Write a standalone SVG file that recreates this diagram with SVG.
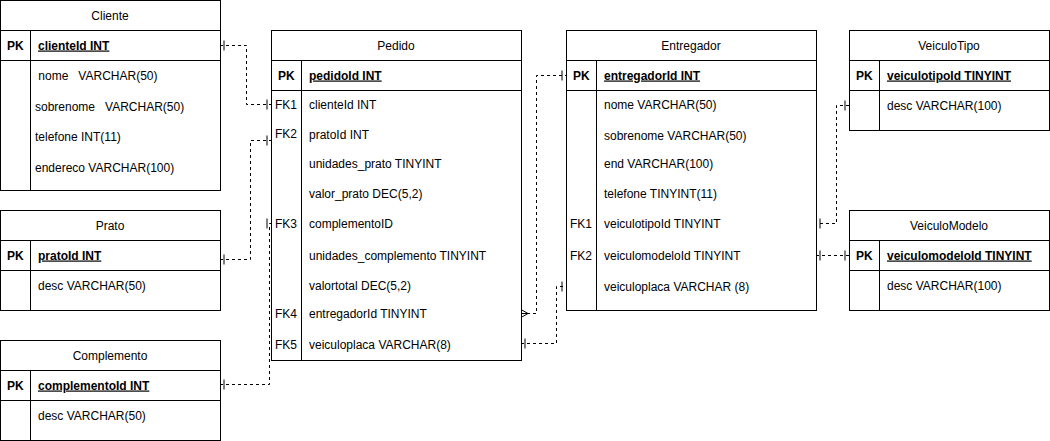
<svg xmlns="http://www.w3.org/2000/svg" width="1050" height="441" viewBox="0 0 1050 441">
<style>
text{font-family:"Liberation Sans",Arial,sans-serif;font-size:12px;fill:#000;}
.t{text-anchor:middle;}
.b{font-weight:bold;}
.u{font-weight:bold;text-decoration:underline;}
.pre{white-space:pre;}
.box{fill:#fff;stroke:#000;stroke-width:1;}
.ln{stroke:#000;stroke-width:1;fill:none;}
.c{stroke:#000;stroke-width:1;fill:none;stroke-dasharray:3 3;}
</style>
<defs>
<marker id="one" viewBox="-10 -6 12 12" refX="0" refY="0" markerWidth="12" markerHeight="12" markerUnits="userSpaceOnUse" orient="auto-start-reverse">
<path d="M-4,-5 L-4,5" stroke="#000" stroke-width="1" fill="none"/>
</marker>
<marker id="many" viewBox="-10 -6 12 12" refX="0" refY="0" markerWidth="12" markerHeight="12" markerUnits="userSpaceOnUse" orient="auto-start-reverse">
<path d="M-7,0 L0,-4 M-7,0 L0,4 M-7,0 L0,0" stroke="#000" stroke-width="1" fill="none"/>
</marker>
</defs>
<rect width="1050" height="441" fill="#fff"/>

<g id="connectors">
<path class="c" d="M220,45.5 H246.5 V104.5 H271" marker-start="url(#one)" marker-end="url(#one)"/>
<path class="c" d="M220,259.5 H250.5 V140.5 H271" marker-start="url(#one)" marker-end="url(#one)"/>
<path class="c" d="M220,384.5 H269.5 V223.5 H271" marker-start="url(#one)" marker-end="url(#one)"/>
<path class="c" d="M521,313.5 H536.5 V75.5 H566" marker-start="url(#many)" marker-end="url(#one)"/>
<path class="c" d="M521,343.5 H556.5 V286.5 H566" marker-start="url(#one)" marker-end="url(#one)"/>
<path class="c" d="M849,105.5 H836.5 V223.5 H816" marker-start="url(#one)" marker-end="url(#one)"/>
<path class="c" d="M849,255.5 H816" marker-start="url(#one)" marker-end="url(#one)"/>
</g>

<g id="Cliente">
<rect class="box" x="0.5" y="0.5" width="220" height="190"/>
<path class="ln" d="M0.5,30.5 H220.5 M0.5,60.5 H220.5 M30.5,30.5 V190.5"/>
<text class="t" x="110" y="19.5">Cliente</text>
<text class="b" x="7" y="49.5">PK</text>
<text class="u" x="38" y="49.5">clienteId INT</text>
<text class="pre" x="35" y="79.5"> nome   VARCHAR(50)</text>
<text class="pre" x="35" y="110.5">sobrenome   VARCHAR(50)</text>
<text x="35" y="140.5">telefone INT(11)</text>
<text x="35" y="171.5">endereco VARCHAR(100)</text>
</g>

<g id="Prato">
<rect class="box" x="0.5" y="210.5" width="220" height="100"/>
<path class="ln" d="M0.5,240.5 H220.5 M0.5,270.5 H220.5 M30.5,240.5 V310.5"/>
<text class="t" x="110" y="229.5">Prato</text>
<text class="b" x="7" y="259.5">PK</text>
<text class="u" x="38" y="259.5">pratoId INT</text>
<text x="38" y="289.5">desc VARCHAR(50)</text>
</g>

<g id="Complemento">
<rect class="box" x="0.5" y="340.5" width="220" height="100"/>
<path class="ln" d="M0.5,370.5 H220.5 M0.5,400.5 H220.5 M30.5,370.5 V440.5"/>
<text class="t" x="110" y="359.5">Complemento</text>
<text class="b" x="7" y="389.5">PK</text>
<text class="u" x="38" y="389.5">complementoId INT</text>
<text x="38" y="419.5">desc VARCHAR(50)</text>
</g>

<g id="Pedido">
<rect class="box" x="271.5" y="30.5" width="250" height="330"/>
<path class="ln" d="M271.5,60.5 H521.5 M271.5,90.5 H521.5 M301.5,60.5 V360.5"/>
<text class="t" x="396" y="49.5">Pedido</text>
<text class="b" x="278" y="79.5">PK</text>
<text class="u" x="309" y="79.5">pedidoId INT</text>
<text x="275" y="108.5">FK1</text>
<text x="309" y="108.5">clienteId INT</text>
<text x="275" y="137.5">FK2</text>
<text x="309" y="138.5">pratoId INT</text>
<text x="309" y="167.5">unidades_prato TINYINT</text>
<text x="309" y="197.5">valor_prato DEC(5,2)</text>
<text x="275" y="227.5">FK3</text>
<text x="309" y="227.5">complementoID</text>
<text x="309" y="259.5">unidades_complemento TINYINT</text>
<text x="309" y="289.5">valortotal DEC(5,2)</text>
<text x="275" y="317.5">FK4</text>
<text x="309" y="317.5">entregadorId TINYINT</text>
<text x="275" y="348.5">FK5</text>
<text x="309" y="348.5">veiculoplaca VARCHAR(8)</text>
</g>

<g id="Entregador">
<rect class="box" x="566.5" y="30.5" width="250" height="280"/>
<path class="ln" d="M566.5,60.5 H816.5 M566.5,90.5 H816.5 M596.5,60.5 V310.5"/>
<text class="t" x="691" y="49.5">Entregador</text>
<text class="b" x="573" y="79.5">PK</text>
<text class="u" x="604" y="79.5">entregadorId INT</text>
<text x="604" y="108.5">nome VARCHAR(50)</text>
<text x="604" y="139.5">sobrenome VARCHAR(50)</text>
<text x="604" y="167.5">end VARCHAR(100)</text>
<text x="604" y="197.5">telefone TINYINT(11)</text>
<text x="570" y="227.5">FK1</text>
<text x="604" y="227.5">veiculotipoId TINYINT</text>
<text x="570" y="259.5">FK2</text>
<text x="604" y="259.5">veiculomodeloId TINYINT</text>
<text x="604" y="290.5">veiculoplaca VARCHAR (8)</text>
</g>

<g id="VeiculoTipo">
<rect class="box" x="849.5" y="30.5" width="200" height="100"/>
<path class="ln" d="M849.5,60.5 H1049.5 M849.5,90.5 H1049.5 M879.5,60.5 V130.5"/>
<text class="t" x="949" y="49.5">VeiculoTipo</text>
<text class="b" x="856" y="79.5">PK</text>
<text class="u" x="887" y="79.5">veiculotipoId TINYINT</text>
<text x="887" y="109.5">desc VARCHAR(100)</text>
</g>

<g id="VeiculoModelo">
<rect class="box" x="849.5" y="210.5" width="200" height="100"/>
<path class="ln" d="M849.5,240.5 H1049.5 M849.5,270.5 H1049.5 M879.5,240.5 V310.5"/>
<text class="t" x="949" y="229.5">VeiculoModelo</text>
<text class="b" x="856" y="259.5">PK</text>
<text class="u" x="887" y="259.5">veiculomodeloId TINYINT</text>
<text x="887" y="289.5">desc VARCHAR(100)</text>
</g>
</svg>
